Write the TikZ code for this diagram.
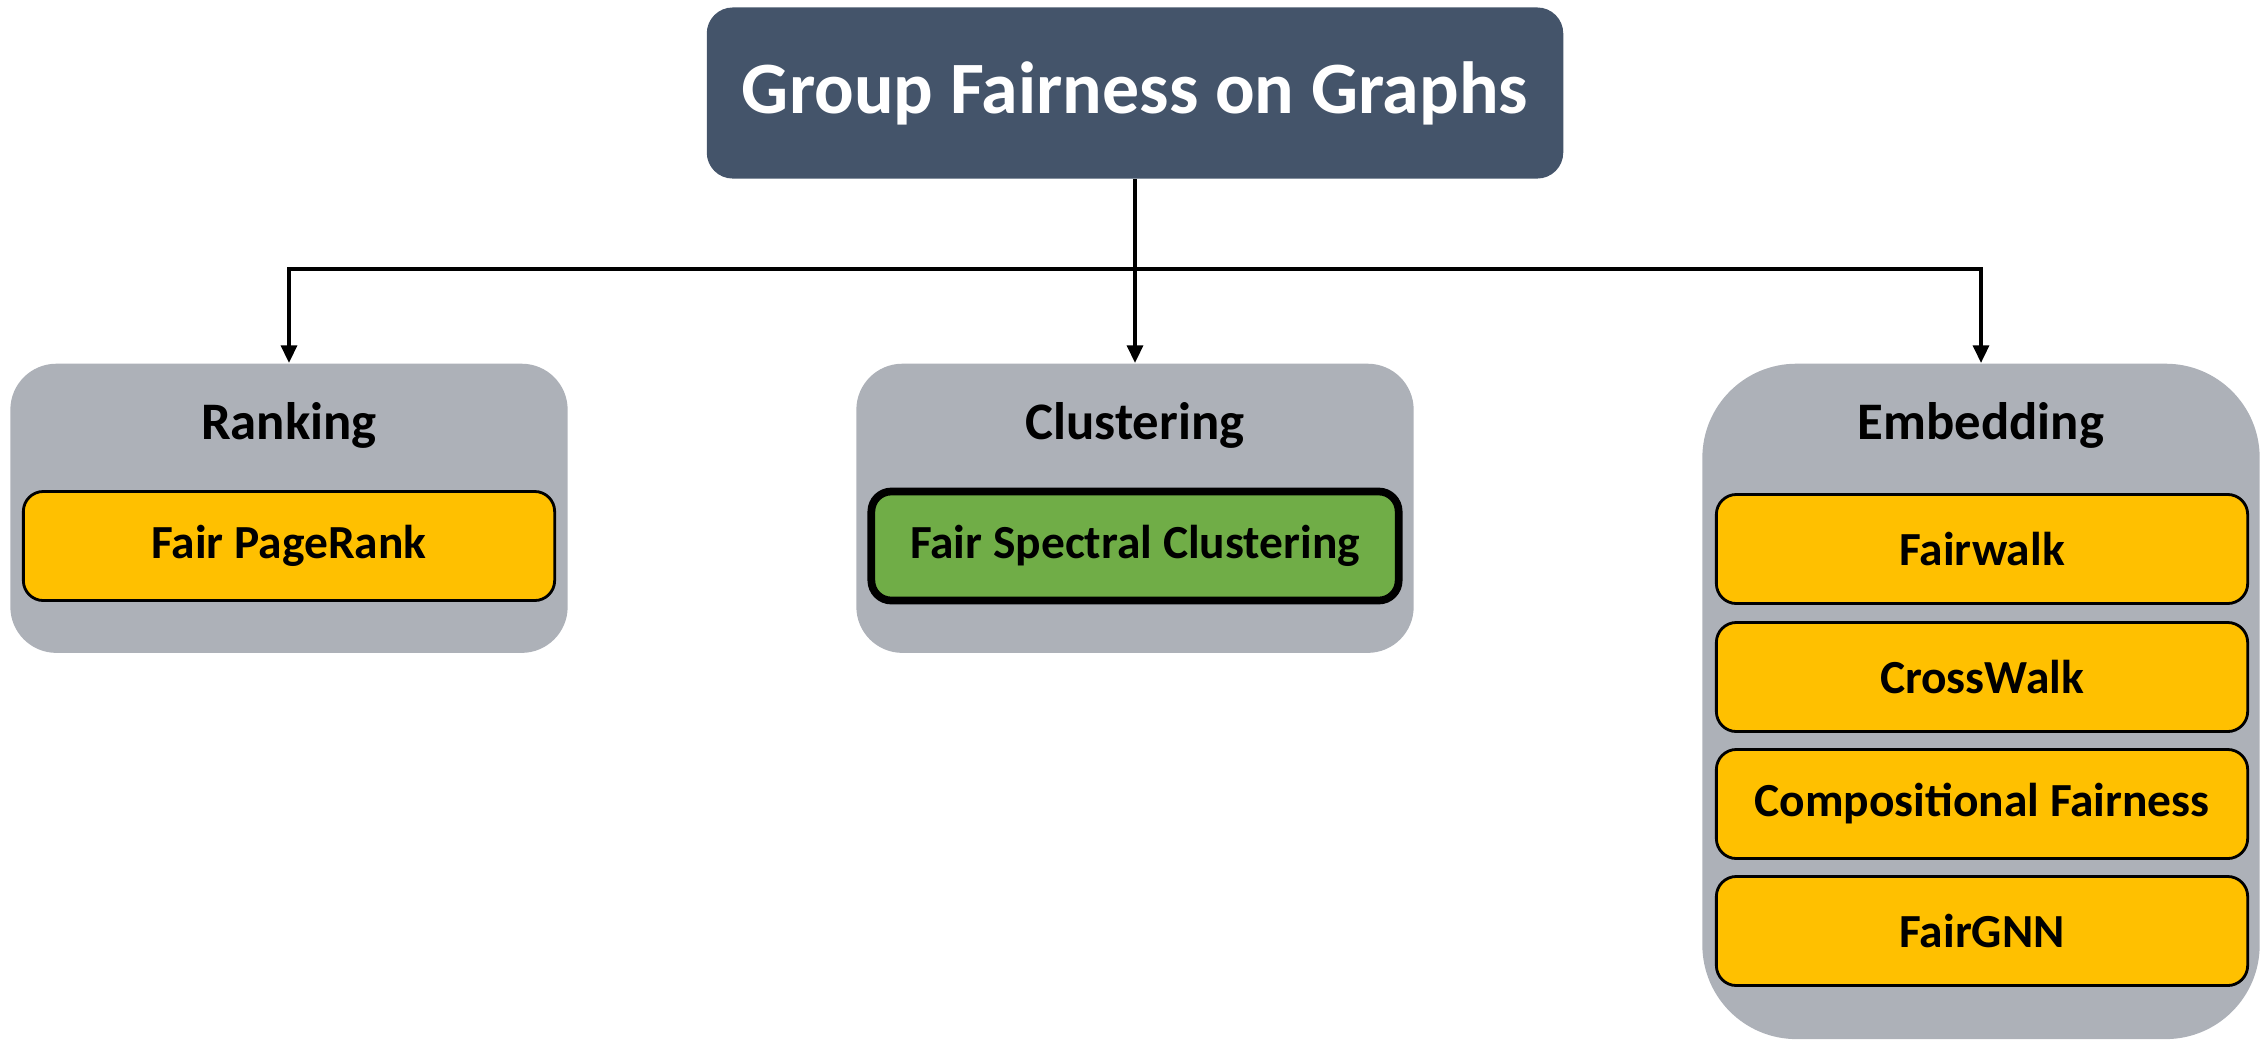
\documentclass[tikz,border=0pt]{standalone}
\usepackage{fontspec}
\setmainfont{Carlito}
\usetikzlibrary{arrows.meta, positioning}
\definecolor{TitleSlate}{RGB}{68,84,106}
\definecolor{GroupGray}{RGB}{173,177,184}
\definecolor{MethodGold}{RGB}{255,192,0}
\definecolor{MethodGreen}{RGB}{112,173,71}

\begin{document}
\begin{tikzpicture}[x=0.01cm, y=-0.01cm,
	titlebox/.style={fill=TitleSlate, text=white, rounded corners=0.26cm,
		minimum width=8.56cm, minimum height=1.71cm, inner sep=0pt,
		font=\fontsize{21}{24}\selectfont\bfseries},
	groupbox/.style={fill=GroupGray, rounded corners=0.46cm, anchor=north,
		minimum width=5.57cm, inner sep=0pt},
	grouphead/.style={font=\fontsize{15}{18}\selectfont\bfseries},
	methodbox/.style={draw=black, line width=0.8pt, fill=MethodGold, rounded corners=0.2cm,
		minimum width=5.31cm, minimum height=1.09cm, inner sep=0pt,
		font=\fontsize{13.5}{16}\selectfont\bfseries},
	linkarrow/.style={line width=1pt, -{Triangle[length=5pt, width=4.5pt]}}]
	\useasboundingbox (0,0) rectangle (2267,1039);
	% top
	\node[titlebox] (title) at (1135,93) {Group Fairness on Graphs};
	% the three groups
	\node[groupbox, minimum height=2.89cm] (rank) at (289,363) {};
	\node[groupbox, minimum height=2.89cm] (clust) at (1135,363) {};
	\node[groupbox, minimum height=6.75cm, rounded corners=0.94cm] (embed) at (1981,363) {};
	\node[grouphead] (rankhead) at (289,425) {Ranking};
	\node[grouphead] (clusthead) at (1135,425) {Clustering};
	\node[grouphead] (embedhead) at (1981,425) {Embedding};
	% methods
	\node[methodbox] (pagerank) at (289,546) {Fair PageRank};
	\node[methodbox, fill=MethodGreen, line width=2.2pt, minimum width=5.27cm] (spectral) at (1135,546) {Fair Spectral Clustering};
	\node[methodbox] (fairwalk) at (1982,549) {Fairwalk};
	\node[methodbox] (crosswalk) at (1982,677) {CrossWalk};
	\node[methodbox] (compfair) at (1982,804) {Compositional Fairness};
	\node[methodbox] (fairgnn) at (1982,931) {FairGNN};
	% connectors
	\coordinate (split) at (1135,269);
	\draw[linkarrow] (title.south) -- (clust.north);
	\draw[linkarrow] (split) -| (rank.north);
	\draw[linkarrow] (split) -| (embed.north);
\end{tikzpicture}
\end{document}
